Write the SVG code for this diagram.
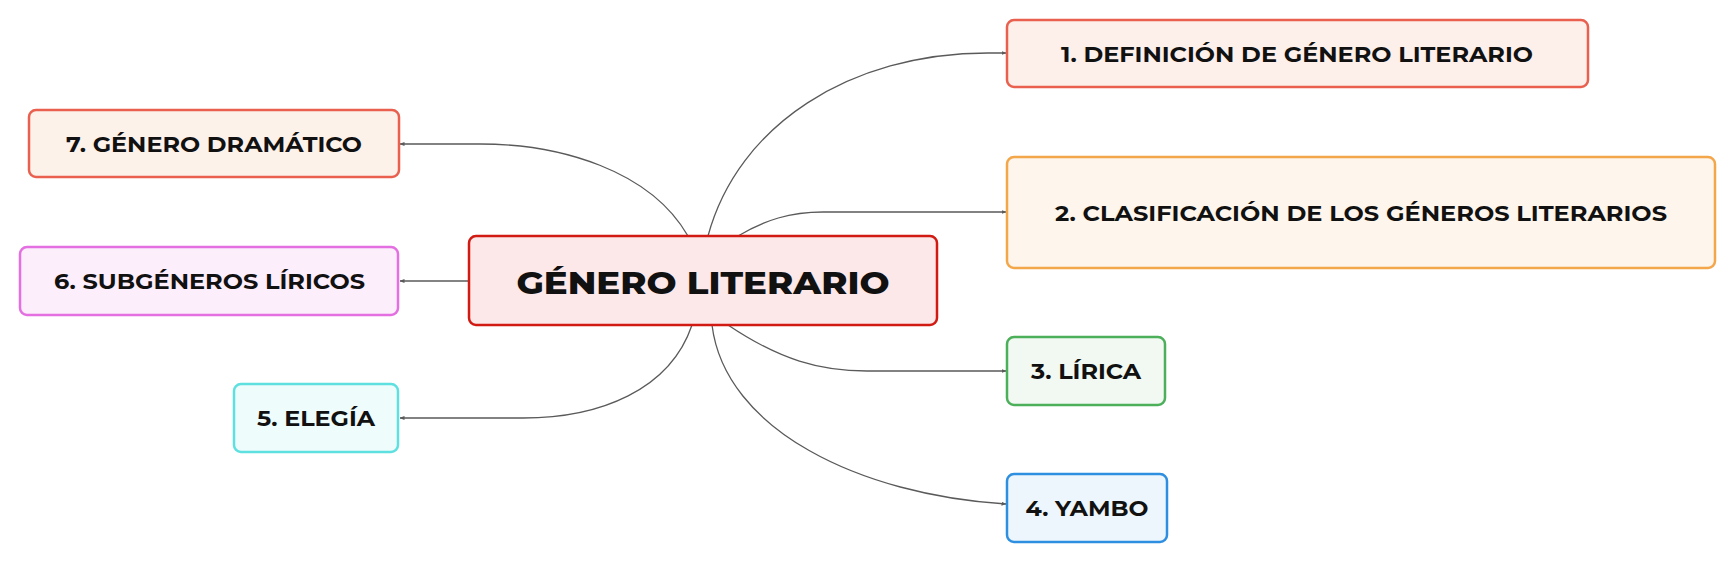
<svg xmlns="http://www.w3.org/2000/svg" width="1735" height="562" viewBox="0 0 1735 562">
  <style>
    .box { stroke-width: 2.5; }
    .lbl { font-family: "Montserrat", "DejaVu Sans", sans-serif; font-weight: 700; font-size: 22px; fill: #111; text-anchor: middle; }
    .main { font-size: 30px; font-weight: 800; }
    .conn { fill: none; stroke: #5a5a5a; stroke-width: 1.3; marker-end: url(#arr); }
  </style>
  <defs>
    <marker id="arr" viewBox="0 0 10 10" refX="9" refY="5" markerWidth="5" markerHeight="5" orient="auto" markerUnits="userSpaceOnUse">
      <path d="M0,1 L10,5 L0,9 z" fill="#5a5a5a"/>
    </marker>
  </defs>
  <rect width="1735" height="562" fill="#ffffff"/>

  <g id="connectors">
    <path class="conn" d="M708,236 C738,125 850,53 988,53 L1006,53"/>
    <path class="conn" d="M738,236 C765,220 790,212 823,212 L1006,212"/>
    <path class="conn" d="M728,325 C780,360 820,371 867,371 L1006,371"/>
    <path class="conn" d="M712,325 C725,430 860,495 1006,504"/>
    <path class="conn" d="M692,325 C670,390 600,418 523,418 L400,418"/>
    <path class="conn" d="M469,281 L400,281"/>
    <path class="conn" d="M688,236 C650,170 560,144 480,144 L400,144"/>
  </g>

  <g id="center">
    <rect class="box" x="469" y="236" width="468" height="89" rx="7" fill="#fde8e9" stroke="#d01a12"/>
    <text class="lbl main" x="703" y="293.5" textLength="373" lengthAdjust="spacingAndGlyphs">GÉNERO LITERARIO</text>
  </g>

  <g id="node1">
    <rect class="box" x="1007" y="20" width="581" height="67" rx="7" fill="#fdefea" stroke="#e9604f"/>
    <text class="lbl" x="1297" y="61.5" textLength="472" lengthAdjust="spacingAndGlyphs">1. DEFINICIÓN DE GÉNERO LITERARIO</text>
  </g>

  <g id="node2">
    <rect class="box" x="1007" y="157" width="708" height="111" rx="7" fill="#fef5ec" stroke="#f4a64a"/>
    <text class="lbl" x="1361" y="220.5" textLength="612" lengthAdjust="spacingAndGlyphs">2. CLASIFICACIÓN DE LOS GÉNEROS LITERARIOS</text>
  </g>

  <g id="node3">
    <rect class="box" x="1007" y="337" width="158" height="68" rx="7" fill="#f2f9f2" stroke="#4caf5a"/>
    <text class="lbl" x="1086" y="379" textLength="110" lengthAdjust="spacingAndGlyphs">3. LÍRICA</text>
  </g>

  <g id="node4">
    <rect class="box" x="1007" y="474" width="160" height="68" rx="7" fill="#eef6fd" stroke="#2e8fe0"/>
    <text class="lbl" x="1087" y="516" textLength="123" lengthAdjust="spacingAndGlyphs">4. YAMBO</text>
  </g>

  <g id="node5">
    <rect class="box" x="234" y="384" width="164" height="68" rx="7" fill="#effcfc" stroke="#5fe0e0"/>
    <text class="lbl" x="316" y="426" textLength="118" lengthAdjust="spacingAndGlyphs">5. ELEGÍA</text>
  </g>

  <g id="node6">
    <rect class="box" x="20" y="247" width="378" height="68" rx="7" fill="#fdeefc" stroke="#e36fe0"/>
    <text class="lbl" x="209.5" y="289" textLength="311" lengthAdjust="spacingAndGlyphs">6. SUBGÉNEROS LÍRICOS</text>
  </g>

  <g id="node7">
    <rect class="box" x="29" y="110" width="370" height="67" rx="7" fill="#fdf2ea" stroke="#e9604f"/>
    <text class="lbl" x="214" y="151.5" textLength="296" lengthAdjust="spacingAndGlyphs">7. GÉNERO DRAMÁTICO</text>
  </g>
</svg>
